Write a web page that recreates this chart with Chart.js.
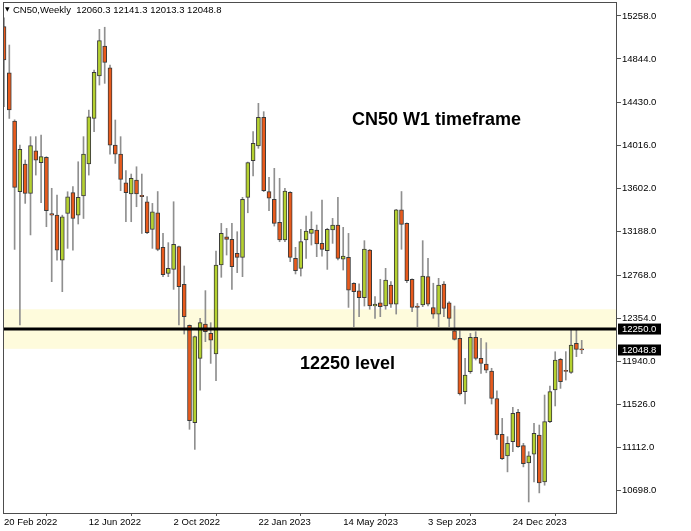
<!DOCTYPE html>
<html>
<head>
<meta charset="utf-8">
<title>CN50 Weekly</title>
<script src="https://cdn.jsdelivr.net/npm/chart.js@4.4.1/dist/chart.umd.min.js"></script>
<style>
  html, body { margin: 0; padding: 0; background: #fff; }
  #wrap { width: 691px; height: 531px; }
</style>
</head>
<body>
<div id="wrap"><canvas id="myChart" width="691" height="531"></canvas></div>
<script>
// weekly candles, first one is the week of 20 Feb 2022
const opens = [15155, 14712, 14248, 13569, 13835, 13553, 13963, 13849, 13900, 13360,
  13344, 12911, 13360, 13560, 13344, 13528, 13835, 14273, 14681, 14969,
  14760, 14017, 13931, 13655, 13548, 13681, 13535, 13473, 13207, 13367,
  13035, 12785, 12823, 13042, 12680, 12285, 11351, 11968, 12298, 12208,
  12010, 12865, 13137, 13111, 12977, 12938, 13515, 13867, 14009, 14284,
  13570, 13496, 13275, 13106, 13563, 12929, 12833, 13106, 13169, 13201,
  13073, 13003, 13201, 13249, 12922, 12938, 12689, 12617, 12552, 13009,
  12471, 12503, 12471, 12673, 12488, 13394, 13265, 12728, 12471, 12481,
  12754, 12455, 12394, 12683, 12503, 12234, 12161, 11649, 11840, 12170,
  11968, 11914, 11847, 11583, 11238, 11031, 11169, 11450, 11130, 10965,
  11049, 11232, 10782, 11360, 11665, 11959, 11850, 11834, 12113, 12060.3];
const highs = [15240, 14978, 14260, 14018, 13874, 14098, 14098, 14114, 13906, 13602,
  13537, 13344, 13569, 13619, 13857, 14098, 14353, 14738, 15129, 15149,
  14786, 14258, 14098, 13771, 13739, 13809, 13739, 13522, 13457, 13571,
  13169, 13080, 13473, 13048, 12856, 12290, 12183, 12353, 12619, 12311,
  13000, 13265, 13217, 13265, 13185, 13515, 13854, 14146, 14418, 14338,
  13708, 13794, 13698, 13602, 13570, 13035, 13208, 13336, 13377, 13249,
  13489, 13218, 13313, 13515, 13227, 13169, 12695, 12684, 13099, 13015,
  12561, 12728, 12833, 12706, 13400, 13571, 13270, 12733, 12496, 13099,
  12929, 12690, 12737, 12706, 12513, 12471, 12234, 11968, 12208, 12225,
  12161, 12119, 11873, 11657, 11392, 11216, 11498, 11478, 11152, 11072,
  11345, 11328, 11616, 11703, 12032, 11968, 12033, 12241, 12241, 12141.3];
const lows = [14385, 14273, 13015, 12289, 13457, 13154, 13729, 13464, 13233, 12705,
  12911, 12609, 13025, 13008, 13259, 13312, 13729, 14145, 14594, 14610,
  13931, 13841, 13579, 13281, 13281, 13425, 13168, 13165, 13025, 13002,
  12753, 12753, 12631, 12289, 12202, 11287, 11094, 11664, 12129, 11920,
  11754, 12747, 12961, 12631, 12792, 12753, 13367, 13720, 13986, 13570,
  13387, 13239, 13089, 13089, 12897, 12779, 12759, 12929, 13057, 12945,
  12951, 12823, 13073, 12913, 12817, 12458, 12273, 12369, 12471, 12440,
  12353, 12369, 12440, 12458, 12394, 13016, 12696, 12417, 12273, 12465,
  12471, 12353, 12273, 12369, 12273, 12144, 11616, 11530, 11824, 11953,
  11824, 11830, 11530, 11189, 10996, 10878, 11072, 11113, 10926, 10589,
  10782, 10676, 10750, 11350, 11511, 11680, 11760, 11824, 11985, 12013.3];
const closes = [14834, 14354, 13611, 13976, 13553, 14012, 13873, 13906, 13387, 13344,
  13008, 13328, 13521, 13312, 13515, 13931, 14289, 14715, 15020, 14811,
  14017, 13931, 13688, 13560, 13697, 13548, 13522, 13175, 13377, 13015,
  12772, 12833, 13063, 12657, 12369, 11369, 12177, 12311, 12225, 12144,
  12865, 13169, 13111, 12849, 12938, 13496, 13848, 14034, 14284, 13579,
  13506, 13265, 13106, 13576, 12938, 12810, 13089, 13192, 13208, 13067,
  13016, 13208, 13249, 12929, 12951, 12624, 12608, 12552, 13019, 12471,
  12490, 12465, 12721, 12488, 13394, 13256, 12715, 12458, 12458, 12759,
  12490, 12394, 12673, 12448, 12353, 12151, 11626, 11809, 12170, 11968,
  11920, 11856, 11583, 11232, 11006, 11152, 11440, 11120, 10958, 11031,
  11248, 10772, 11360, 11649, 11953, 11744, 11844, 12097, 12055, 12048.8];

// x axis labels, one every 16 weeks
const xTickLabels = ['20 Feb 2022', '12 Jun 2022', '2 Oct 2022', '22 Jan 2023', '14 May 2023', '3 Sep 2023', '24 Dec 2023'];
const weeksPerLabel = 16;
const yTicks = [15258, 14844, 14430, 14016, 13602, 13188, 12768, 12354, 11940, 11526, 11112, 10698];

const levelPrice = 12250;
const zoneLow = 12060;
const zoneHigh = 12440;
const lastPrice = 12048.8;
const headerText = 'CN50,Weekly  12060.3 12141.3 12013.3 12048.8';
const chartTitle = 'CN50 W1 timeframe';
const levelText = '12250 level';

const BULL = '#b5d130';
const BEAR = '#e85a1c';
const FONT = '"Liberation Sans", Arial, sans-serif';

Chart.defaults.font.family = FONT;
Chart.defaults.font.size = 9.5;
Chart.defaults.color = '#000';

const bodies = opens.map((o, i) => ({ x: i, y: [o, closes[i]] }));
const wicks = lows.map((l, i) => ({ x: i, y: [l, highs[i]] }));

const annotations = {
  id: 'annotations',
  beforeDatasetsDraw(chart) {
    const { ctx, chartArea: a, scales: { y } } = chart;
    ctx.save();
    ctx.fillStyle = '#fefbdc';
    const top = y.getPixelForValue(zoneHigh);
    const bot = y.getPixelForValue(zoneLow);
    ctx.fillRect(a.left, top, a.right - a.left, bot - top);
    ctx.restore();
  },
  afterDatasetsDraw(chart) {
    const { ctx, chartArea: a, scales: { y } } = chart;
    ctx.save();
    // level line
    const ly = y.getPixelForValue(levelPrice);
    ctx.strokeStyle = '#000';
    ctx.lineWidth = 3;
    ctx.beginPath();
    ctx.moveTo(a.left, ly);
    ctx.lineTo(a.right, ly);
    ctx.stroke();

    // frame
    ctx.strokeStyle = '#4d4d4d';
    ctx.lineWidth = 1;
    ctx.strokeRect(a.left + 0.5, a.top + 0.5, a.right - a.left - 1, a.bottom - a.top);

    // price boxes on the axis
    ctx.font = '9.5px ' + FONT;
    ctx.textBaseline = 'middle';
    ctx.textAlign = 'left';
    [levelPrice, lastPrice].forEach(p => {
      const py = y.getPixelForValue(p);
      ctx.fillStyle = '#000';
      ctx.fillRect(a.right + 1, py - 5.5, 43, 11);
      ctx.fillStyle = '#fff';
      ctx.fillText(p.toFixed(1), a.right + 5, py + 0.5);
    });

    // header
    ctx.fillStyle = '#000';
    ctx.font = '6px "DejaVu Sans"';
    ctx.fillText('\u25BC', 5, 9.5);
    ctx.font = '9.5px ' + FONT;
    ctx.fillText(headerText, 13, 10);

    // titles
    ctx.font = 'bold 18px ' + FONT;
    ctx.fillText(chartTitle, 352, 120);
    ctx.fillText(levelText, 300, 364);
    ctx.restore();
  }
};

const config = {
  type: 'bar',
  data: {
    datasets: [
      {
        label: 'body',
        data: bodies,
        backgroundColor: c => closes[c.dataIndex] >= opens[c.dataIndex] ? BULL : BEAR,
        borderColor: '#3a3a3a',
        borderWidth: 1,
        borderSkipped: false,
        barThickness: 4,
        minBarLength: 1,
        grouped: false,
        order: 1
      },
      {
        label: 'wick',
        data: wicks,
        backgroundColor: '#8f8f8f',
        borderWidth: 0,
        barThickness: 1,
        grouped: false,
        order: 2
      }
    ]
  },
  options: {
    responsive: false,
    animation: false,
    layout: { padding: { left: 3, top: 2, right: 0, bottom: 0 } },
    plugins: {
      legend: { display: false },
      tooltip: { enabled: false }
    },
    scales: {
      x: {
        type: 'linear',
        min: -0.19,
        max: 115.66,
        offset: false,
        grid: { drawOnChartArea: false, tickLength: 3, color: '#555', tickColor: '#555' },
        border: { display: false },
        ticks: {
          align: 'start',
          maxRotation: 0,
          autoSkip: false,
          padding: 1,
          callback: (v, i) => xTickLabels[i]
        },
        afterBuildTicks: s => { s.ticks = xTickLabels.map((t, i) => ({ value: i * weeksPerLabel })); },
        afterFit: s => { s.height = 18; s.paddingLeft = 0; s.paddingRight = 0; }
      },
      y: {
        type: 'linear',
        position: 'right',
        min: 10483,
        max: 15391.5,
        grid: { drawOnChartArea: false, tickLength: 4, color: '#555', tickColor: '#555' },
        border: { display: false },
        ticks: {
          padding: 1,
          callback: v => v.toFixed(1)
        },
        afterBuildTicks: s => { s.ticks = yTicks.map(v => ({ value: v })); },
        afterFit: s => { s.width = 74; s.paddingTop = 0; s.paddingBottom = 0; }
      }
    }
  },
  plugins: [annotations]
};

const myChart = new Chart(document.getElementById('myChart'), config);
</script>
</body>
</html>
